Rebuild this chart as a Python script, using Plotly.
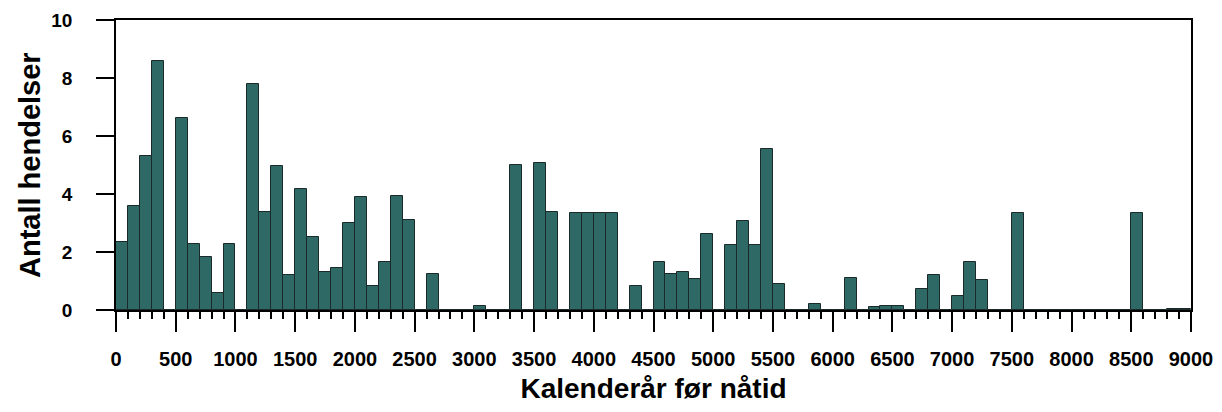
"""
Histogram of events per century (calendar years before present)
"""

import plotly.graph_objs as go

# start year of each 100-year bin
bin_start = list(range(0, 9000, 100))

# number of events in each bin
counts = [
    2.34, 3.58, 5.30, 8.58, 0, 6.61, 2.29, 1.83, 0.58, 2.29,      # 0-900
    0, 7.79, 3.39, 4.97, 1.20, 4.17, 2.51, 1.32, 1.46, 3.01,      # 1000-1900
    3.88, 0.83, 1.67, 3.93, 3.11, 0, 1.23, 0, 0, 0,               # 2000-2900
    0.15, 0, 0, 5.00, 0, 5.07, 3.39, 0, 3.34, 3.34,               # 3000-3900
    3.34, 3.34, 0, 0.83, 0, 1.67, 1.23, 1.30, 1.07, 2.63,         # 4000-4900
    0, 2.25, 3.07, 2.25, 5.55, 0.89, 0, 0, 0.20, 0,               # 5000-5900
    0, 1.10, 0, 0.10, 0.15, 0.15, 0, 0.74, 1.20, 0,               # 6000-6900
    0.48, 1.64, 1.05, 0, 0, 3.34, 0, 0, 0, 0,                     # 7000-7900
    0, 0, 0, 0, 0, 3.34, 0, 0, 0.05, 0.05,                        # 8000-8900
]

x_ticks = list(range(0, 9001, 500))
y_ticks = [0, 2, 4, 6, 8, 10]

bar_color = '#2f6966'
font_family = 'Liberation Sans, Arial, sans-serif'

fig = go.Figure(
    data=go.Bar(
        x=[s + 50 for s in bin_start],
        y=counts,
        width=100,
        marker=dict(color=bar_color, line=dict(color='#1a2a2a', width=1)),
    )
)

# the page body adds an 8px offset, margins are set with that in mind
fig.update_layout(
    width=1222,
    height=412,
    margin=dict(l=108, r=39, t=12, b=110),
    plot_bgcolor='white',
    paper_bgcolor='white',
    showlegend=False,
    bargap=0,
    font=dict(family=font_family, color='black', weight='bold'),
)

fig.update_xaxes(
    automargin=False,
    range=[0, 9000],
    tickvals=x_ticks,
    ticks='outside',
    ticklen=20,
    tickwidth=2,
    tickcolor='black',
    tickfont=dict(size=20, family=font_family, weight='bold'),
    ticklabelstandoff=10,
    minor=dict(dtick=100, tick0=0, ticks='outside', ticklen=7, tickwidth=2, tickcolor='black'),
    showline=True,
    linecolor='black',
    linewidth=2,
    mirror=True,
    showgrid=False,
    zeroline=False,
    title=dict(text='Kalenderår før nåtid', font=dict(size=28, family=font_family, weight='bold'), standoff=9),
)

fig.update_yaxes(
    automargin=False,
    range=[0, 10],
    tickvals=y_ticks,
    ticks='outside',
    ticklen=18,
    tickwidth=1.5,
    tickcolor='black',
    tickfont=dict(size=19, family=font_family, weight='bold'),
    ticklabelstandoff=20,
    showline=True,
    linecolor='black',
    linewidth=1.5,
    mirror=True,
    showgrid=False,
    zeroline=False,
)

# y title placed by hand, it sits closer to the page edge than plotly puts it
fig.add_annotation(
    text='Antall hendelser',
    xref='paper', yref='paper',
    x=0, y=0.5,
    xanchor='center', yanchor='middle',
    xshift=-86,
    textangle=-90,
    showarrow=False,
    font=dict(size=29, family=font_family, weight='bold', color='black'),
)

fig.write_html("out.html")
